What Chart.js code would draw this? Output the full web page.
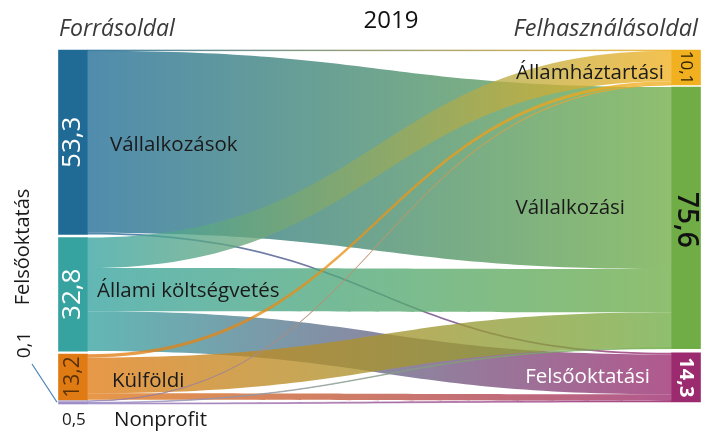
<!DOCTYPE html>
<html>
<head>
<meta charset="utf-8">
<script src="https://cdn.jsdelivr.net/npm/chart.js@4"></script>
<style>
  html, body { margin: 0; padding: 0; background: #fff; }
  #wrap { width: 716px; height: 432px; position: relative; }
</style>
</head>
<body>
<div id="wrap"><canvas id="sankey"></canvas></div>
<script>
// Source side (Forrásoldal) and use side (Felhasználásoldal)
const sourceNames = ["Vállalkozások", "Állami költségvetés", "Külföldi", "Felsőoktatás", "Nonprofit"];
const sourceLabels = ["53,3", "32,8", "13,2", "0,1", "0,5"];
const sourceColors = ["#1f6b96", "#36a3a0", "#e07b14", "#8a78b0", "#9d8cc8"];

const targetNames = ["Államháztartási", "Vállalkozási", "Felsőoktatási"];
const targetLabels = ["10,1", "75,6", "14,3"];
const targetColors = ["#f0b020", "#70ad47", "#9b2a6e"];

// flows: from source index -> to target index, value in %
const flowFrom = [0, 0, 0, 1, 1, 1, 2, 2, 2, 3, 4, 4];
const flowTo = [0, 1, 2, 0, 1, 2, 0, 1, 2, 0, 1, 2];
const flowValue = [0.2, 52.6, 0.5, 8.8, 12.5, 11.5, 1.0, 10.3, 1.9, 0.1, 0.2, 0.3];

// gaps between stacked nodes (in value units)
const sourceGaps = [0.9, 0.9, 0.3, 0.3];
const targetGaps = [0.6, 1.2];

const FONT = "'Open Sans', 'Noto Sans', sans-serif";
const BAR_W = 29;
const FLOW_ALPHA = 0.78;

function rgba(hex, a) {
  const n = parseInt(hex.slice(1), 16);
  return `rgba(${(n >> 16) & 255},${(n >> 8) & 255},${n & 255},${a})`;
}

// node totals from flows
const sourceTotals = sourceNames.map((_, i) =>
  flowValue.reduce((s, v, k) => s + (flowFrom[k] === i ? v : 0), 0));
const targetTotals = targetNames.map((_, j) =>
  flowValue.reduce((s, v, k) => s + (flowTo[k] === j ? v : 0), 0));

// stack nodes in each column
function stack(totals, gaps) {
  let y = 0;
  return totals.map((t, i) => {
    const r = [y, y + t];
    y += t + (gaps[i] || 0);
    return r;
  });
}
const sourceRanges = stack(sourceTotals, sourceGaps);
const targetRanges = stack(targetTotals, targetGaps);
const yMax = sourceRanges[sourceRanges.length - 1][1];

// node bars as floating bars
const nodeData = [];
const nodeColors = [];
sourceRanges.forEach((r, i) => { nodeData.push({ x: 0, y: r }); nodeColors.push(sourceColors[i]); });
targetRanges.forEach((r, j) => { nodeData.push({ x: 1, y: r }); nodeColors.push(targetColors[j]); });

// flow offsets within nodes (sorted by the opposite side order)
const flowSegs = flowValue.map((v, k) => ({ k, from: flowFrom[k], to: flowTo[k], v }));
const srcOffset = sourceRanges.map(r => r[0]);
const tgtOffset = targetRanges.map(r => r[0]);
flowSegs.slice().sort((a, b) => a.from - b.from || a.to - b.to).forEach(f => {
  f.s0 = srcOffset[f.from]; f.s1 = f.s0 + f.v; srcOffset[f.from] = f.s1;
});
flowSegs.slice().sort((a, b) => a.to - b.to || a.from - b.from).forEach(f => {
  f.t0 = tgtOffset[f.to]; f.t1 = f.t0 + f.v; tgtOffset[f.to] = f.t1;
});

// Draw the flow bands behind the node bars
const flowPlugin = {
  id: "flows",
  beforeDatasetsDraw(chart) {
    const ctx = chart.ctx;
    const xs = chart.scales.x, ys = chart.scales.y;
    const x0 = xs.getPixelForValue(0) + BAR_W / 2;
    const x1 = xs.getPixelForValue(1) - BAR_W / 2;
    const xm = (x0 + x1) / 2;
    flowSegs.forEach(f => {
      const a0 = ys.getPixelForValue(f.s0), a1 = ys.getPixelForValue(f.s1);
      const b0 = ys.getPixelForValue(f.t0), b1 = ys.getPixelForValue(f.t1);
      const g = ctx.createLinearGradient(x0, 0, x1, 0);
      g.addColorStop(0, rgba(sourceColors[f.from], FLOW_ALPHA));
      g.addColorStop(1, rgba(targetColors[f.to], FLOW_ALPHA));
      ctx.save();
      ctx.beginPath();
      ctx.moveTo(x0, a0);
      ctx.bezierCurveTo(xm, a0, xm, b0, x1, b0);
      ctx.lineTo(x1, b1);
      ctx.bezierCurveTo(xm, b1, xm, a1, x0, a1);
      ctx.closePath();
      ctx.fillStyle = g;
      ctx.fill();
      // keep hairline flows visible
      if (a1 - a0 < 1.5) {
        ctx.strokeStyle = g;
        ctx.lineWidth = 0.7;
        ctx.stroke();
      }
      ctx.restore();
    });
  }
};

function text(ctx, str, x, y, opt) {
  ctx.save();
  ctx.font = opt.font;
  ctx.fillStyle = opt.color || "#1a1a1a";
  ctx.textAlign = opt.align || "left";
  ctx.textBaseline = "middle";
  ctx.translate(x, y);
  if (opt.rot) ctx.rotate(opt.rot);
  ctx.fillText(str, 0, 0);
  ctx.restore();
}

// Labels, values and headers
const labelPlugin = {
  id: "labels",
  afterDraw(chart) {
    const ctx = chart.ctx;
    const xs = chart.scales.x, ys = chart.scales.y;
    const lx = xs.getPixelForValue(0), rx = xs.getPixelForValue(1);
    const mid = r => (ys.getPixelForValue(r[0]) + ys.getPixelForValue(r[1])) / 2;
    const nameFont = `20.5px ${FONT}`;

    text(ctx, "Forrásoldal", 59, 29, { font: `italic 23px ${FONT}`, color: "#3a3a3a" });
    text(ctx, "Felhasználásoldal", 698, 29, { font: `italic 23.5px ${FONT}`, color: "#3a3a3a", align: "right" });
    text(ctx, "2019", 391, 21, { font: `500 24px ${FONT}`, color: "#111", align: "center" });

    // source node names
    text(ctx, sourceNames[0], lx + 37, mid(sourceRanges[0]) + 3, { font: nameFont });
    text(ctx, sourceNames[1], lx + 24, mid(sourceRanges[1]) - 3, { font: nameFont });
    text(ctx, sourceNames[2], lx + 39, mid(sourceRanges[2]) + 4, { font: nameFont });
    text(ctx, sourceNames[4], lx + 41, 420, { font: nameFont });
    text(ctx, sourceLabels[4], lx - 11, 420, { font: `17px ${FONT}` });
    text(ctx, sourceNames[3], 23, 247, { font: `20px ${FONT}`, align: "center", rot: -Math.PI / 2 });
    text(ctx, sourceLabels[3], 25, 345, { font: `19px ${FONT}`, align: "center", rot: -Math.PI / 2 });
    ctx.save();
    ctx.strokeStyle = "#4a80b8";
    ctx.lineWidth = 1.2;
    ctx.beginPath();
    ctx.moveTo(32, 364);
    ctx.lineTo(57, ys.getPixelForValue(sourceRanges[3][1]) + 1);
    ctx.stroke();
    ctx.restore();

    // source values inside bars
    text(ctx, sourceLabels[0], lx, mid(sourceRanges[0]), { font: `26px ${FONT}`, color: "#fff", align: "center", rot: -Math.PI / 2 });
    text(ctx, sourceLabels[1], lx, mid(sourceRanges[1]), { font: `26px ${FONT}`, color: "#fff", align: "center", rot: -Math.PI / 2 });
    text(ctx, sourceLabels[2], lx, mid(sourceRanges[2]), { font: `21px ${FONT}`, color: "#5a3208", align: "center", rot: -Math.PI / 2 });

    // target node names
    text(ctx, targetNames[0], rx - 22, mid(targetRanges[0]) + 6, { font: nameFont, align: "right" });
    text(ctx, targetNames[1], rx - 61, mid(targetRanges[1]) - 10, { font: nameFont, align: "right" });
    text(ctx, targetNames[2], rx - 36, mid(targetRanges[2]), { font: nameFont, color: "#fff", align: "right" });

    // target values inside bars
    text(ctx, targetLabels[0], rx, mid(targetRanges[0]), { font: `17px ${FONT}`, color: "#2a2000", align: "center", rot: Math.PI / 2 });
    text(ctx, targetLabels[1], rx, mid(targetRanges[1]) + 2, { font: `600 28px ${FONT}`, color: "#111", align: "center", rot: Math.PI / 2 });
    text(ctx, targetLabels[2], rx, mid(targetRanges[2]), { font: `bold 20px ${FONT}`, color: "#fff", align: "center", rot: Math.PI / 2 });
  }
};

new Chart(document.getElementById("sankey").getContext("2d"), {
  type: "bar",
  data: {
    datasets: [{
      data: nodeData,
      backgroundColor: nodeColors,
      barThickness: BAR_W,
      borderWidth: 0,
      borderSkipped: false,
      clip: false,
    }],
  },
  options: {
    responsive: true,
    maintainAspectRatio: false,
    animation: false,
    events: [],
    layout: { padding: { left: 73, right: 30, top: 50, bottom: 28 } },
    scales: {
      x: { type: "linear", min: 0, max: 1, display: false, offset: false },
      y: { type: "linear", min: 0, max: yMax, reverse: true, display: false },
    },
    plugins: {
      legend: { display: false },
      tooltip: { enabled: false },
    },
  },
  plugins: [flowPlugin, labelPlugin],
});
</script>
</body>
</html>
